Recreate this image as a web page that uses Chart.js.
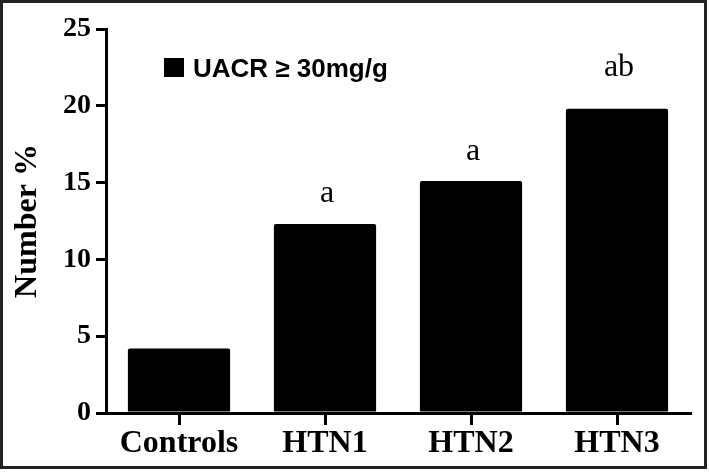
<!DOCTYPE html>
<html>
<head>
<meta charset="utf-8">
<script src="https://cdn.jsdelivr.net/npm/chart.js@4/dist/chart.umd.min.js"></script>
<style>
    html, body { margin: 0; padding: 0; background: #fff; }
    #wrap { width: 709px; height: 472px; }
</style>
</head>
<body>
<div id="wrap"><canvas id="uacr-chart" width="709" height="472"></canvas></div>
<script>
const groups = ["Controls", "HTN1", "HTN2", "HTN3"];
const uacrPercent = [4.2, 12.3, 15.1, 19.8];
const significance = ["", "a", "a", "ab"];
const yTicks = [0, 5, 10, 15, 20, 25];

const serif = "'Liberation Serif', 'Times New Roman', serif";
const sans = "'Liberation Sans', Arial, sans-serif";

// white page + dark frame round the whole figure
const framePlugin = {
    id: "frame",
    beforeDraw(chart) {
        const ctx = chart.ctx;
        ctx.save();
        ctx.fillStyle = "#fff";
        ctx.fillRect(0, 0, chart.width, chart.height);
        ctx.restore();
    },
    afterDraw(chart) {
        const ctx = chart.ctx;
        ctx.save();
        ctx.strokeStyle = "#222";
        ctx.lineWidth = 3;
        ctx.strokeRect(1.5, 1.5, chart.width - 5, chart.height - 6);
        ctx.restore();
    },
};

// legend box drawn inside the plot area, like the original figure
const insideLegend = {
    id: "insideLegend",
    afterDatasetsDraw(chart) {
        const ctx = chart.ctx;
        const ds = chart.data.datasets[0];
        ctx.save();
        ctx.fillStyle = ds.backgroundColor;
        ctx.fillRect(164, 58, 20, 19);
        ctx.font = `bold 26px ${sans}`;
        ctx.textBaseline = "alphabetic";
        ctx.textAlign = "left";
        ctx.fillStyle = "#000";
        ctx.fillText(ds.label, 193, 77);
        ctx.restore();
    },
};

// significance letters above the bars
const letterPlugin = {
    id: "letters",
    afterDatasetsDraw(chart, args, opts) {
        const ctx = chart.ctx;
        const meta = chart.getDatasetMeta(0);
        ctx.save();
        ctx.font = `32px ${serif}`;
        ctx.textAlign = "center";
        ctx.textBaseline = "alphabetic";
        ctx.fillStyle = "#000";
        meta.data.forEach((bar, i) => {
            if (!significance[i]) {
                return;
            }
            ctx.fillText(significance[i], bar.x + 2, bar.y - opts.offsets[i]);
        });
        ctx.restore();
    },
};

new Chart(document.getElementById("uacr-chart"), {
    type: "bar",
    data: {
        labels: groups,
        datasets: [
            {
                label: "UACR \u2265 30mg/g",
                data: uacrPercent,
                backgroundColor: "#000",
                borderRadius: 2,
                barPercentage: 0.7,
                categoryPercentage: 1.0,
            },
        ],
    },
    options: {
        responsive: false,
        animation: false,
        layout: {
            padding: { top: 29, right: 19, bottom: 4, left: 0 },
        },
        plugins: {
            legend: { display: false },
            tooltip: { enabled: false },
            letters: { offsets: [0, 22, 21, 33] },
        },
        scales: {
            x: {
                afterFit(scale) {
                    scale.height = 55;
                },
                border: { color: "#000", width: 3 },
                grid: {
                    display: true,
                    drawOnChartArea: false,
                    offset: false,
                    tickLength: 12,
                    color: "#000",
                    lineWidth: 3,
                },
                ticks: {
                    color: "#000",
                    padding: 0,
                    font: { family: serif, size: 32, weight: "bold" },
                },
            },
            y: {
                min: 0,
                max: 25,
                afterFit(scale) {
                    scale.width = 106;
                },
                afterBuildTicks(scale) {
                    scale.ticks = yTicks.map((v) => ({ value: v }));
                },
                border: { color: "#000", width: 3 },
                grid: {
                    display: true,
                    drawOnChartArea: false,
                    tickLength: 10,
                    color: "#000",
                    lineWidth: 3,
                },
                ticks: {
                    color: "#000",
                    padding: 5,
                    font: { family: serif, size: 28, weight: "bold" },
                },
                title: {
                    display: true,
                    text: "Number %",
                    color: "#000",
                    padding: { top: 9, bottom: 0 },
                    font: { family: serif, size: 32, weight: "bold" },
                },
            },
        },
    },
    plugins: [framePlugin, insideLegend, letterPlugin],
});
</script>
</body>
</html>
